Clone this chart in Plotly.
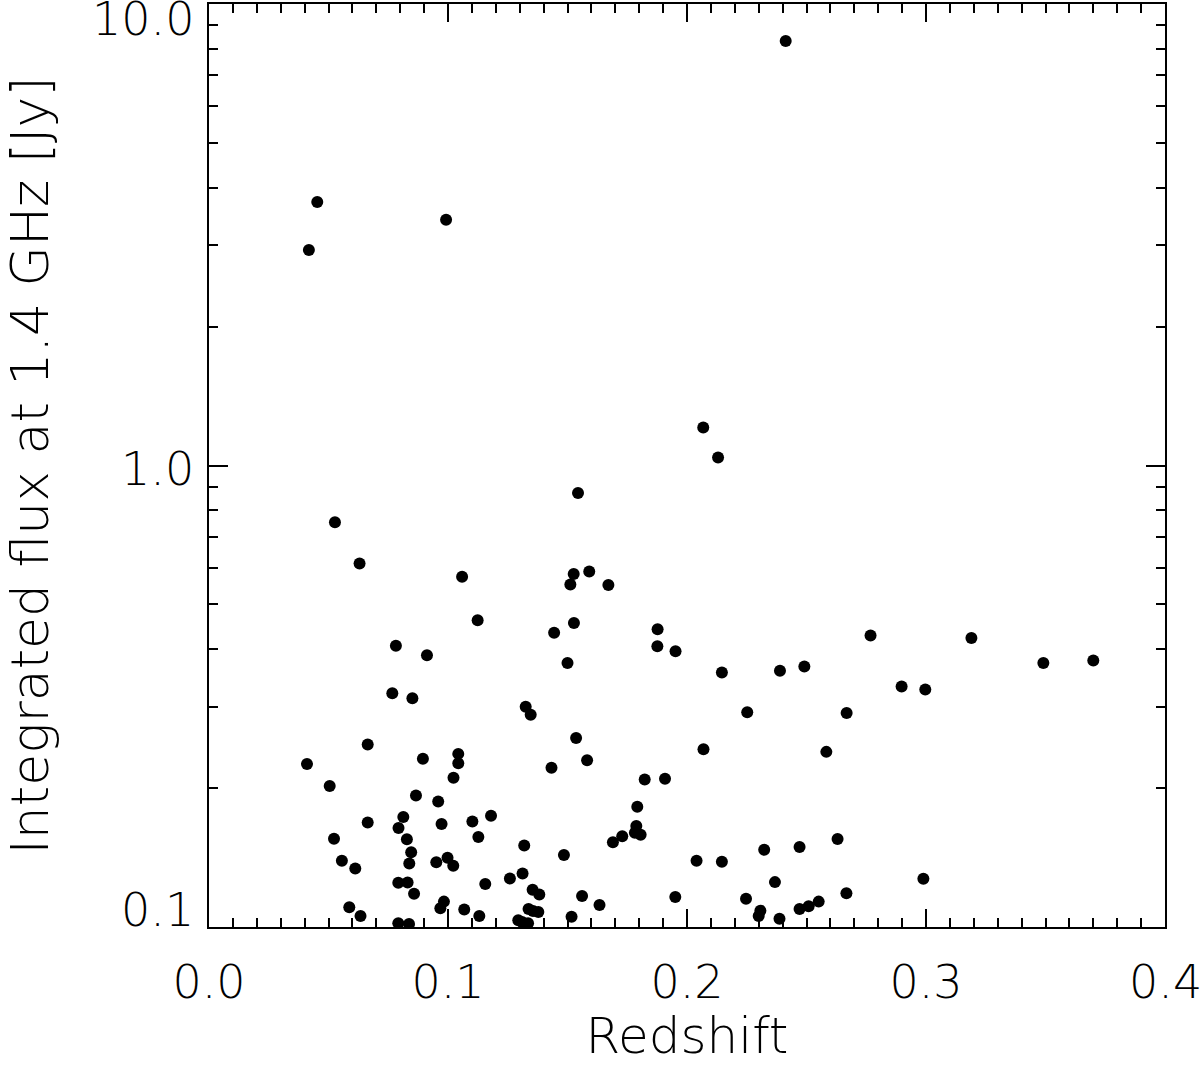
import math
import plotly.graph_objects as go

# Redshift (x) and integrated 1.4 GHz flux in Jy (y)
redshift = [
    0.2413, 0.0453, 0.0418, 0.0992, 0.2068, 0.2130, 0.2768, 0.3190, 0.2146, 0.2389,
    0.2491, 0.3491, 0.3700, 0.2898, 0.2997, 0.2252, 0.2668, 0.1544, 0.0527, 0.0630,
    0.1059, 0.1526, 0.1591, 0.1512, 0.1671, 0.1124, 0.1527, 0.1444, 0.1877, 0.1876,
    0.1952, 0.0782, 0.0912, 0.1500, 0.0767, 0.0851, 0.1325, 0.1346, 0.0410, 0.0664,
    0.0505, 0.0895, 0.1043, 0.1043, 0.1023, 0.0866, 0.0959, 0.0813, 0.0664, 0.0793,
    0.0973, 0.1102, 0.1180, 0.0523, 0.0828, 0.1127, 0.0846, 0.0556, 0.0612, 0.0838,
    0.0951, 0.0998, 0.1022, 0.0792, 0.0831, 0.0858, 0.1156, 0.0587, 0.0634, 0.0983,
    0.0968, 0.1068, 0.1131, 0.0792, 0.0837, 0.1433, 0.1536, 0.1582, 0.1823, 0.1908,
    0.1319, 0.1485, 0.1792, 0.1788, 0.1782, 0.1806, 0.1729, 0.1690, 0.2040, 0.1259,
    0.1312, 0.1354, 0.1382, 0.1561, 0.1634, 0.1951, 0.1337, 0.1356, 0.1378, 0.1294,
    0.1310, 0.1335, 0.1517, 0.2069, 0.2323, 0.2368, 0.2247, 0.2307, 0.2300, 0.2387,
    0.2583, 0.2630, 0.2471, 0.2989, 0.2667, 0.2471, 0.2509, 0.2551, 0.2146,
]
flux_jy = [
    8.31, 3.725, 2.929, 3.409, 1.209, 1.041, 0.428, 0.423, 0.356, 0.359,
    0.367, 0.3735, 0.378, 0.332, 0.327, 0.292, 0.291, 0.872, 0.753, 0.613,
    0.574, 0.582, 0.589, 0.552, 0.551, 0.462, 0.456, 0.434, 0.442, 0.406,
    0.396, 0.407, 0.388, 0.3735, 0.321, 0.313, 0.300, 0.2884, 0.2254, 0.2485,
    0.2020, 0.2314, 0.2372, 0.2265, 0.2106, 0.1928, 0.1871, 0.1731, 0.1685, 0.1639,
    0.1672, 0.1692, 0.1743, 0.1554, 0.1549, 0.1567, 0.1452, 0.1391, 0.1339, 0.1373,
    0.1382, 0.1413, 0.1357, 0.1247, 0.1249, 0.1181, 0.1239, 0.1103, 0.1056, 0.1135,
    0.1098, 0.1091, 0.1056, 0.1019, 0.1015, 0.2213, 0.2569, 0.2299, 0.2088, 0.2095,
    0.1501, 0.1433, 0.1823, 0.1656, 0.1601, 0.1585, 0.1572, 0.1526, 0.1391, 0.1274,
    0.1306, 0.1204, 0.1176, 0.1167, 0.1116, 0.1161, 0.1094, 0.1083, 0.1078, 0.1034,
    0.1025, 0.1019, 0.1053, 0.2428, 0.1470, 0.1251, 0.1151, 0.1085, 0.1056, 0.1042,
    0.2396, 0.1552, 0.1491, 0.1272, 0.1184, 0.1094, 0.1109, 0.1135, 0.1385,
]

x_tick_vals = [0.0, 0.1, 0.2, 0.3, 0.4]
x_tick_text = ["0.0", "0.1", "0.2", "0.3", "0.4"]
y_tick_vals = [0.1, 1.0, 10.0]
y_tick_text = ["0.1", "1.0", "10.0"]
x_title = "Redshift"
y_title = "Integrated flux at 1.4 GHz [Jy]"

TICK_FONT = dict(family="DejaVu Sans", size=46, color="black", weight=200)
XTITLE_FONT = dict(family="DejaVu Sans", size=50, color="black", weight=200)
YTITLE_FONT = dict(family="DejaVu Sans", size=52, color="black", weight=200)

fig = go.Figure()
fig.add_trace(go.Scatter(
    x=redshift, y=flux_jy, mode="markers",
    marker=dict(size=12, color="black", line=dict(width=0)),
    cliponaxis=True, showlegend=False, hoverinfo="skip",
))

fig.update_layout(
    width=1200, height=1065,
    margin=dict(l=209, r=35, t=4, b=138),
    paper_bgcolor="white", plot_bgcolor="white",
    font=TICK_FONT,
    showlegend=False,
)

# the last x label sits at the page edge: plotly would hide it, so it is drawn as an annotation
x_axis_text = x_tick_text[:-1] + [""]

fig.update_xaxes(
    range=[0, 0.4], tickvals=x_tick_vals, ticktext=x_axis_text,
    ticks="inside", ticklen=18, tickwidth=1.5, tickcolor="black",
    minor=dict(dtick=0.01, ticks="inside", ticklen=9, tickwidth=1.5, tickcolor="black", showgrid=False),
    showline=True, linewidth=2, linecolor="black", mirror="ticks",
    showgrid=False, zeroline=False, automargin=False,
    tickfont=TICK_FONT, ticklabelstandoff=14,
    title=dict(text=x_title, font=XTITLE_FONT, standoff=37),
)

fig.add_annotation(
    x=x_tick_vals[-1], xref="x", xanchor="center",
    y=0, yref="paper", yanchor="middle", yshift=-55,
    text=x_tick_text[-1], showarrow=False, font=TICK_FONT,
)

fig.update_yaxes(
    type="log", range=[-1, 1], tickvals=y_tick_vals,
    ticks="inside", ticklen=19, tickwidth=1.5, tickcolor="black",
    minor=dict(dtick="D1", ticks="inside", ticklen=9, tickwidth=1.5, tickcolor="black", showgrid=False),
    showline=True, linewidth=2, linecolor="black", mirror="ticks",
    showgrid=False, zeroline=False, showticklabels=False, automargin=False,
    title=dict(text=y_title, font=YTITLE_FONT, standoff=150),
)

# y tick labels (placed at the tick values, nudged inward as in the reference)
y_shifts = [17, -3, -15]
for v, t, s in zip(y_tick_vals, y_tick_text, y_shifts):
    fig.add_annotation(
        x=0, xref="paper", xanchor="right", xshift=-13,
        y=math.log10(v), yref="y", yanchor="middle", yshift=s,
        text=t, showarrow=False, font=TICK_FONT,
    )

fig.write_html(
    "out.html",
    config={"displayModeBar": False},
    post_script="document.body.style.margin='0';document.body.style.overflow='hidden';",
)
